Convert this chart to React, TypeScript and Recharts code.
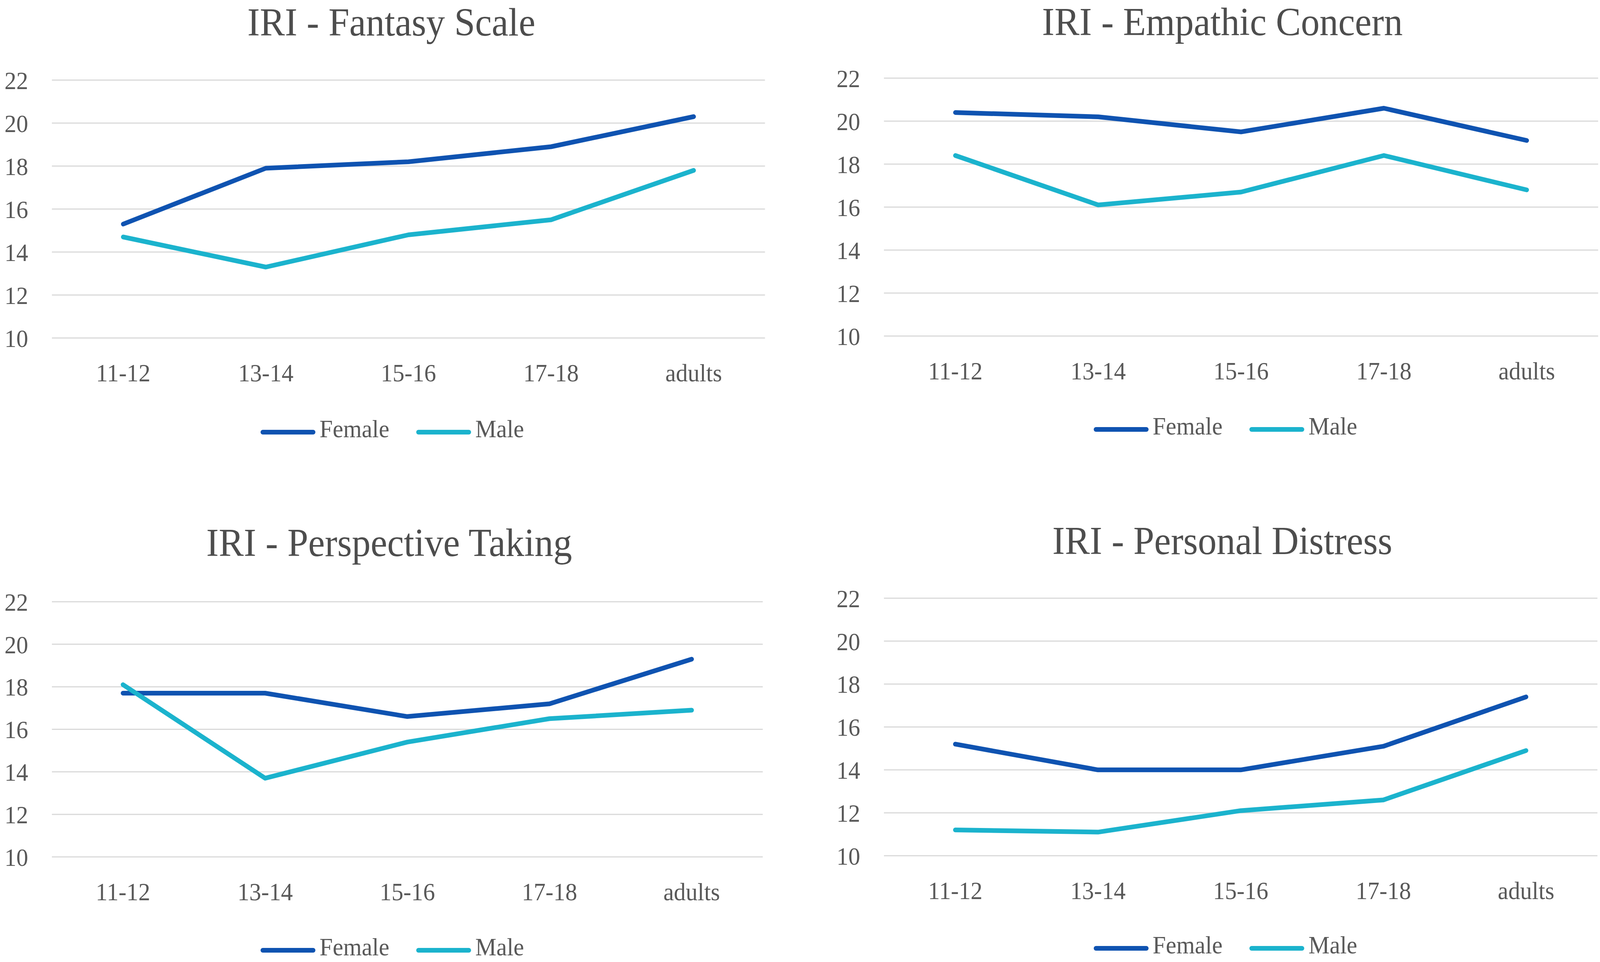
import { LineChart, Line, XAxis, YAxis, CartesianGrid, Legend } from "recharts"

const ageGroups = ["11-12", "13-14", "15-16", "17-18", "adults"]
const yTicks = [10, 12, 14, 16, 18, 20, 22]

const fantasyFemale = [15.3, 17.9, 18.2, 18.9, 20.3]
const fantasyMale = [14.7, 13.3, 14.8, 15.5, 17.8]

const empathicFemale = [20.4, 20.2, 19.5, 20.6, 19.1]
const empathicMale = [18.4, 16.1, 16.7, 18.4, 16.8]

const perspectiveFemale = [17.7, 17.7, 16.6, 17.2, 19.3]
const perspectiveMale = [18.1, 13.7, 15.4, 16.5, 16.9]

const distressFemale = [15.2, 14.0, 14.0, 15.1, 17.4]
const distressMale = [11.2, 11.1, 12.1, 12.6, 14.9]

const FONT = "'Liberation Serif', 'DejaVu Serif', serif"
const TEXT = "#595959"
const TITLE_TEXT = "#4D4D4D"
const FEMALE = "#0F53B1"
const MALE = "#1BB3CD"
const GRID = "#D9D9D9"
const TICK_SIZE = 64
const TITLE_SIZE = 101

// layout is drawn on the reference's 4317x2462 grid, then squeezed to the real viewport width
const PAGE_W = 4317
const PAGE_H = 2462

interface PanelProps {
  title: string
  female: number[]
  male: number[]
  x0: number
  y0: number
  w: number
  h: number
  plot: { left: number; right: number; top: number; bottom: number }
  titleX: number
  titleBase: number
  legendX: number
  legendY: number
}

const renderLegend = (props: any) => {
  const { payload } = props
  return (
    <div style={{ display: "flex", justifyContent: "center", alignItems: "center", gap: 72 }}>
      {payload.map((entry: any) => (
        <div key={entry.value} style={{ display: "flex", alignItems: "center" }}>
          <svg width={150} height={16} style={{ position: "relative", top: 8 }}>
            <line x1={7} y1={8} x2={143} y2={8} stroke={entry.color} strokeWidth={12} strokeLinecap="round" />
          </svg>
          <span style={{ marginLeft: 10, fontFamily: FONT, fontSize: TICK_SIZE, lineHeight: `${TICK_SIZE}px`, color: TEXT }}>
            {entry.value}
          </span>
        </div>
      ))}
    </div>
  )
}

const Panel = (p: PanelProps) => {
  const data = ageGroups.map((g, i) => ({ group: g, Female: p.female[i], Male: p.male[i] }))
  const yAxisWidth = 120
  const xAxisHeight = 120
  const pad = (p.plot.right - p.plot.left) / 10
  const margin = {
    top: p.plot.top - p.y0,
    left: p.plot.left - p.x0 - yAxisWidth,
    right: p.x0 + p.w - p.plot.right,
    bottom: p.y0 + p.h - p.plot.bottom - xAxisHeight,
  }
  const tick = { fontFamily: FONT, fontSize: TICK_SIZE, fill: TEXT }

  return (
    <div style={{ position: "absolute", left: p.x0, top: p.y0, width: p.w, height: p.h }}>
      <div
        style={{
          position: "absolute",
          left: p.titleX - p.x0 - 1000,
          width: 2000,
          top: p.titleBase - p.y0 - 0.8375 * TITLE_SIZE,
          textAlign: "center",
          fontFamily: FONT,
          fontSize: TITLE_SIZE,
          lineHeight: `${TITLE_SIZE}px`,
          color: TITLE_TEXT,
          zIndex: 2,
        }}
      >
        {p.title}
      </div>
      <LineChart width={p.w} height={p.h} data={data} margin={margin}>
        <CartesianGrid vertical={false} stroke={GRID} strokeWidth={3} />
        <XAxis
          dataKey="group"
          scale="point"
          padding={{ left: pad, right: pad }}
          height={xAxisHeight}
          axisLine={false}
          tickLine={false}
          tickSize={0}
          tickMargin={66}
          interval={0}
          tick={tick}
        />
        <YAxis
          domain={[10, 22]}
          ticks={yTicks}
          width={yAxisWidth}
          axisLine={false}
          tickLine={false}
          tickSize={0}
          tickMargin={64}
          interval={0}
          tick={tick}
        />
        <Legend
          layout="horizontal"
          verticalAlign="middle"
          align="center"
          content={renderLegend}
          wrapperStyle={{ left: p.legendX - p.x0 - 500, width: 1000, top: p.legendY - p.y0 - 32, height: 64 }}
        />
        <Line
          type="linear"
          dataKey="Female"
          name="Female"
          stroke={FEMALE}
          strokeWidth={12}
          strokeLinejoin="round"
          strokeLinecap="round"
          dot={false}
          activeDot={false}
          isAnimationActive={false}
        />
        <Line
          type="linear"
          dataKey="Male"
          name="Male"
          stroke={MALE}
          strokeWidth={12}
          strokeLinejoin="round"
          strokeLinecap="round"
          dot={false}
          activeDot={false}
          isAnimationActive={false}
        />
      </LineChart>
    </div>
  )
}

export default function App() {
  const viewW = typeof window !== "undefined" ? window.innerWidth : PAGE_W
  const sx = Math.min(1, viewW / PAGE_W)
  return (
    <div style={{ position: "absolute", left: 0, top: 0, width: PAGE_W * sx, height: PAGE_H, overflow: "hidden", background: "#fff" }}>
      <div
        style={{
          position: "absolute",
          left: 0,
          top: 0,
          width: PAGE_W,
          height: PAGE_H,
          transform: `scaleX(${sx})`,
          transformOrigin: "0 0",
        }}
      >
        <Panel
          title="IRI - Fantasy Scale"
          female={fantasyFemale}
          male={fantasyMale}
          x0={0} y0={0} w={2158} h={1231}
          plot={{ left: 140, right: 2064, top: 205, bottom: 865 }}
          titleX={1056} titleBase={92}
          legendX={1058} legendY={1098}
        />
        <Panel
          title="IRI - Empathic Concern"
          female={empathicFemale}
          male={empathicMale}
          x0={2158} y0={0} w={2159} h={1231}
          plot={{ left: 2385, right: 4312, top: 200, bottom: 860 }}
          titleX={3298} titleBase={91}
          legendX={3306} legendY={1091}
        />
        <Panel
          title="IRI - Perspective Taking"
          female={perspectiveFemale}
          male={perspectiveMale}
          x0={0} y0={1231} w={2158} h={1231}
          plot={{ left: 140, right: 2058, top: 1540, bottom: 2193 }}
          titleX={1050} titleBase={1424}
          legendX={1058} legendY={2424}
        />
        <Panel
          title="IRI - Personal Distress"
          female={distressFemale}
          male={distressMale}
          x0={2158} y0={1231} w={2159} h={1231}
          plot={{ left: 2385, right: 4310, top: 1531, bottom: 2190 }}
          titleX={3298} titleBase={1419}
          legendX={3306} legendY={2419}
        />
      </div>
    </div>
  )
}
